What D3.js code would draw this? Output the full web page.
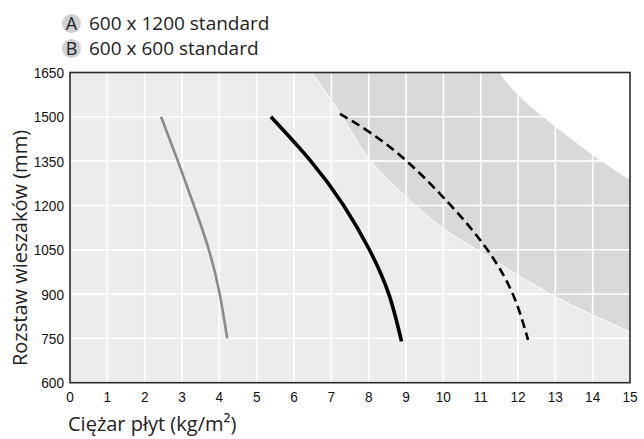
<!DOCTYPE html>
<html><head><meta charset="utf-8">
<script src="https://cdn.jsdelivr.net/npm/d3@7"></script>
<style>
html,body{margin:0;padding:0;background:#fff;}
svg{display:block;}
</style></head>
<body>
<svg id="c" width="644" height="439"></svg>
<script>
// ---- data ----
const xTicks = [0,1,2,3,4,5,6,7,8,9,10,11,12,13,14,15];
const yTicks = [600,750,900,1050,1200,1350,1500,1650];
const legendKeys = ["A","B"];
const legendLabels = ["600 x 1200 standard","600 x 600 standard"];
const xTitle = "Ciężar płyt (kg/m²)";
const yTitle = "Rozstaw wieszaków (mm)";
// curves: [weight, spacing]
const grayLine   = [[2.44,1500],[2.89,1350],[3.32,1200],[3.72,1050],[4.01,900],[4.21,750]];
const blackLine  = [[5.38,1500],[6.45,1350],[7.33,1200],[8.02,1050],[8.54,900],[8.88,740]];
const dashedLine = [[7.23,1510],[8.0,1450],[9.02,1350],[10.2,1200],[11.18,1050],[11.86,900],[12.27,745]];
// zone boundaries
const lowerBoundary = [[6.47,1650],[7.23,1512],[8,1360],[9,1229],[10,1122],[11,1043],[12,964],[13,891],[14,829],[15,772]];
const upperBoundary = [[11.5,1650],[12,1574],[12.72,1495],[13,1466],[14,1371],[15,1286]];

// ---- layout ----
const svg = d3.select("#c");
const L=70, R=630, T=72.5, B=382.7;
const x = d3.scaleLinear().domain([0,15]).range([L,R]);
const y = d3.scaleLinear().domain([600,1650]).range([B,T]);

svg.append("rect").attr("x",L).attr("y",T).attr("width",R-L).attr("height",B-T).attr("fill","#ebeceb");

const smooth = d3.line().x(d=>x(d[0])).y(d=>y(d[1])).curve(d3.curveNatural);

// dark zone
svg.append("path")
  .attr("d", smooth(lowerBoundary) + "L" + x(15) + "," + y(1650) + "Z")
  .attr("fill","#d8d9da");
svg.append("path").attr("d", smooth(lowerBoundary)).attr("fill","none").attr("stroke","#fff").attr("stroke-width",1);

// grid
const g = svg.append("g");
g.selectAll(".vx").data(xTicks.slice(1,-1)).join("line")
  .attr("x1",d=>x(d)).attr("x2",d=>x(d)).attr("y1",T).attr("y2",B)
  .attr("stroke","#fff").attr("stroke-width",1.6);
g.selectAll(".hy").data(yTicks.slice(1,-1)).join("line")
  .attr("y1",d=>y(d)).attr("y2",d=>y(d)).attr("x1",L).attr("x2",R)
  .attr("stroke","#fff").attr("stroke-width",1.6);

// white zone
svg.append("path")
  .attr("d", smooth(upperBoundary) + "L" + x(15) + "," + y(1650) + "Z")
  .attr("fill","#fff");

// frame
svg.append("rect").attr("x",L).attr("y",T).attr("width",R-L).attr("height",B-T)
  .attr("fill","none").attr("stroke","#2b2b2b").attr("stroke-width",1.6);

// lines
svg.append("path").attr("d",smooth(grayLine)).attr("fill","none").attr("stroke","#8a8a8a").attr("stroke-width",2.6);
svg.append("path").attr("d",smooth(blackLine)).attr("fill","none").attr("stroke","#000").attr("stroke-width",3.6);
svg.append("path").attr("d",smooth(dashedLine)).attr("fill","none").attr("stroke","#000").attr("stroke-width",2.6).attr("stroke-dasharray","9,5");

// tick labels (condensed look)
const tickFont = "'Liberation Sans','Arial',sans-serif";
svg.append("g").selectAll("text").data(xTicks).join("text")
  .attr("transform",d=>`translate(${x(d)},402) scale(0.88,1)`).attr("text-anchor","middle")
  .attr("font-family",tickFont).attr("font-size",15.5).attr("fill","#111").text(d=>d);
svg.append("g").selectAll("text").data(yTicks).join("text")
  .attr("transform",d=>`translate(64,${y(d)+5.6}) scale(0.88,1)`).attr("text-anchor","end")
  .attr("font-family",tickFont).attr("font-size",15.5).attr("fill","#111").text(d=>d);

const titleFont = "'Open Sans','Noto Sans',sans-serif";
svg.append("text").attr("x",68).attr("y",431).attr("font-family",titleFont).attr("font-size",20).attr("fill","#222").text(xTitle);
svg.append("text").attr("transform","translate(27,248) rotate(-90)").attr("text-anchor","middle")
  .attr("font-family",titleFont).attr("font-size",20).attr("fill","#222").text(yTitle);

// legend
const lg = svg.append("g").selectAll("g").data(legendKeys).join("g")
  .attr("transform",(d,i)=>`translate(0,${23.5+i*25})`);
lg.append("circle").attr("cx",71.5).attr("cy",0).attr("r",9.5).attr("fill","#cfd0d1");
lg.append("text").attr("x",71.5).attr("y",6.5).attr("text-anchor","middle")
  .attr("font-family",titleFont).attr("font-size",18).attr("fill","#222").text(d=>d);
lg.append("text").attr("x",89).attr("y",6.5).attr("font-family",titleFont).attr("font-size",19).attr("fill","#222")
  .text((d,i)=>legendLabels[i]);
</script>
</body></html>
